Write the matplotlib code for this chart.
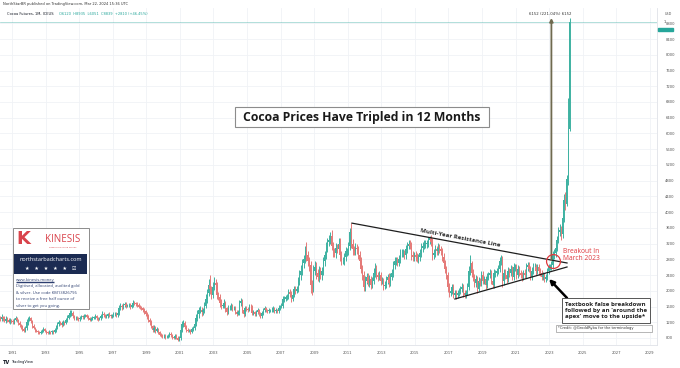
import matplotlib
matplotlib.use("Agg")
import matplotlib.pyplot as plt
import numpy as np
from matplotlib.patches import Rectangle

# ---------------- data (monthly cocoa futures, USD/t) ----------------
start_year, start_month = 1990, 4

c1990 = [1280, 1330, 1300, 1240, 1290, 1260, 1210, 1250, 1230]
c1991 = [1200, 1250, 1300, 1260, 1190, 1130, 1080, 1020, 990, 1050, 1200, 1280]
c1992 = [1300, 1230, 1100, 1050, 1000, 980, 950, 920, 960, 1000, 1020, 980]
c1993 = [950, 930, 960, 940, 970, 950, 1000, 1080, 1150, 1200, 1180, 1140]
c1994 = [1200, 1190, 1250, 1320, 1380, 1430, 1440, 1350, 1300, 1320, 1300, 1280]
c1995 = [1320, 1350, 1330, 1370, 1380, 1340, 1300, 1260, 1290, 1310, 1330, 1350]
c1996 = [1300, 1280, 1300, 1350, 1420, 1380, 1340, 1360, 1400, 1380, 1350, 1380]
c1997 = [1400, 1420, 1380, 1440, 1560, 1620, 1580, 1640, 1660, 1620, 1630, 1650]
c1998 = [1600, 1640, 1700, 1680, 1660, 1640, 1600, 1580, 1550, 1520, 1480, 1420]
c1999 = [1350, 1260, 1200, 1100, 1000, 1050, 980, 1020, 940, 880, 860, 840]
c2000 = [850, 820, 830, 860, 900, 870, 820, 800, 850, 810, 760, 800]
c2001 = [1000, 1150, 1180, 1080, 1000, 980, 990, 960, 1020, 1050, 1150, 1300]
c2002 = [1400, 1500, 1520, 1450, 1500, 1620, 1800, 1950, 2150, 2050, 1900, 2100]
c2003 = [2200, 2150, 1900, 1850, 1700, 1620, 1620, 1700, 1550, 1450, 1560, 1560]
c2004 = [1600, 1550, 1550, 1470, 1420, 1450, 1680, 1750, 1520, 1400, 1550, 1540]
c2005 = [1520, 1600, 1580, 1440, 1450, 1400, 1450, 1500, 1420, 1350, 1430, 1500]
c2006 = [1550, 1500, 1480, 1500, 1500, 1520, 1560, 1480, 1500, 1480, 1570, 1600]
c2007 = [1620, 1780, 1800, 1830, 1850, 1960, 1930, 1800, 1900, 2050, 2000, 2050]
c2008 = [2250, 2400, 2500, 2700, 2800, 3000, 2900, 2750, 2650, 2150, 2050, 2500]
c2009 = [2600, 2450, 2350, 2500, 2400, 2500, 2750, 2900, 3100, 3250, 3300, 3400]
c2010 = [3150, 3000, 2950, 3100, 3050, 3200, 2900, 2750, 2750, 2850, 3000, 3000]
c2011 = [3150, 3500, 3200, 3050, 3000, 3100, 3050, 2900, 2750, 2550, 2400, 2100]
c2012 = [2250, 2350, 2200, 2300, 2150, 2250, 2450, 2550, 2400, 2350, 2400, 2250]
c2013 = [2250, 2120, 2150, 2280, 2350, 2200, 2350, 2450, 2650, 2750, 2750, 2700]
c2014 = [2800, 2950, 2950, 2950, 2900, 3050, 3150, 3200, 3150, 2900, 2850, 2900]
c2015 = [2850, 2800, 2850, 2950, 3100, 3150, 3200, 3200, 3200, 3300, 3350, 3250]
c2016 = [2900, 2950, 3050, 3000, 3100, 3050, 3000, 2850, 2700, 2550, 2400, 2100]
c2017 = [1950, 2000, 2100, 1900, 1950, 1900, 1950, 2000, 2050, 2100, 1950, 1900]
c2018 = [1950, 2100, 2500, 2700, 2450, 2350, 2200, 2300, 2050, 2250, 2200, 2400]
c2019 = [2250, 2300, 2150, 2350, 2400, 2450, 2250, 2150, 2450, 2450, 2500, 2550]
c2020 = [2750, 2800, 2250, 2450, 2400, 2300, 2500, 2450, 2550, 2350, 2600, 2600]
c2021 = [2400, 2550, 2450, 2400, 2350, 2450, 2400, 2600, 2650, 2550, 2350, 2500]
c2022 = [2600, 2600, 2500, 2600, 2500, 2450, 2350, 2400, 2300, 2350, 2500, 2600]
c2023 = [2600, 2650, 2900, 2950, 3100, 3300, 3500, 3550, 3450, 3850, 4300, 4200]
c2024 = [4850, 6120, 8839]

# upper wick above body top / lower wick below body bottom (USD)
h1990 = [60, 80, 40, 50, 70, 40, 50, 60, 40]
l1990 = [40, 50, 60, 40, 50, 60, 40, 50, 50]
h1991 = [50, 70, 60, 40, 30, 40, 30, 40, 50, 60, 80, 50]
l1991 = [40, 50, 30, 60, 50, 40, 50, 40, 40, 30, 40, 60]
h1992 = [70, 40, 30, 50, 40, 40, 30, 40, 50, 40, 50, 30]
l1992 = [60, 40, 40, 30, 50, 40, 40, 30, 30, 40, 40, 40]
h1993 = [30, 40, 40, 30, 40, 30, 50, 60, 50, 60, 40, 40]
l1993 = [40, 30, 40, 30, 30, 40, 30, 40, 40, 50, 40, 50]
h1994 = [50, 40, 60, 60, 50, 70, 60, 40, 40, 50, 40, 40]
l1994 = [30, 50, 40, 40, 40, 50, 60, 50, 40, 40, 50, 40]
h1995 = [50, 40, 40, 50, 40, 30, 40, 30, 50, 40, 40, 50]
l1995 = [40, 40, 50, 40, 40, 40, 50, 40, 30, 40, 30, 40]
h1996 = [40, 30, 40, 50, 60, 40, 40, 50, 40, 50, 40, 40]
l1996 = [50, 40, 30, 40, 40, 50, 40, 30, 40, 40, 50, 30]
h1997 = [50, 40, 50, 60, 70, 60, 50, 60, 60, 50, 40, 50]
l1997 = [40, 40, 50, 40, 50, 50, 60, 40, 50, 60, 40, 50]
h1998 = [50, 60, 60, 50, 40, 50, 40, 50, 40, 50, 40, 40]
l1998 = [60, 40, 50, 40, 50, 40, 50, 40, 50, 50, 60, 60]
h1999 = [40, 50, 60, 50, 40, 70, 50, 60, 40, 40, 40, 30]
l1999 = [60, 50, 60, 50, 60, 50, 50, 40, 50, 40, 40, 40]
h2000 = [50, 40, 40, 50, 50, 40, 40, 40, 50, 40, 30, 60]
l2000 = [40, 40, 30, 30, 40, 50, 40, 30, 30, 40, 40, 30]
h2001 = [80, 90, 70, 60, 50, 50, 40, 50, 60, 50, 80, 100]
l2001 = [40, 60, 70, 60, 50, 40, 40, 50, 40, 40, 40, 50]
h2002 = [100, 80, 90, 80, 70, 90, 120, 100, 150, 250, 80, 120]
l2002 = [60, 80, 70, 80, 60, 60, 60, 100, 80, 120, 100, 80]
h2003 = [150, 100, 80, 70, 60, 80, 60, 80, 50, 50, 80, 70]
l2003 = [80, 100, 120, 80, 100, 80, 70, 60, 80, 70, 50, 60]
h2004 = [80, 60, 70, 60, 50, 60, 80, 60, 50, 50, 60, 60]
l2004 = [60, 70, 50, 60, 50, 40, 60, 70, 80, 60, 50, 60]
h2005 = [60, 70, 60, 50, 50, 40, 60, 50, 40, 40, 50, 60]
l2005 = [50, 40, 50, 60, 50, 50, 40, 50, 60, 50, 40, 40]
h2006 = [60, 50, 40, 50, 40, 60, 50, 40, 50, 40, 60, 50]
l2006 = [40, 50, 50, 40, 50, 40, 50, 50, 40, 50, 40, 50]
h2007 = [60, 80, 70, 60, 70, 80, 90, 60, 70, 80, 70, 80]
l2007 = [50, 60, 70, 50, 60, 70, 80, 90, 60, 70, 80, 60]
h2008 = [100, 120, 150, 120, 110, 150, 240, 100, 120, 100, 120, 150]
l2008 = [80, 100, 120, 100, 120, 100, 150, 120, 150, 200, 150, 80]
h2009 = [150, 120, 100, 120, 100, 100, 120, 120, 130, 100, 120, 100]
l2009 = [100, 150, 100, 120, 100, 120, 100, 120, 100, 120, 100, 120]
h2010 = [150, 100, 100, 120, 100, 140, 150, 100, 120, 100, 120, 100]
l2010 = [120, 130, 100, 120, 100, 100, 150, 100, 80, 100, 100, 120]
h2011 = [100, 100, 220, 120, 100, 110, 100, 100, 100, 100, 100, 100]
l2011 = [100, 120, 100, 150, 100, 100, 120, 100, 120, 100, 120, 100]
h2012 = [120, 100, 100, 100, 80, 100, 120, 150, 100, 80, 100, 80]
l2012 = [100, 80, 80, 100, 100, 80, 80, 100, 100, 100, 80, 100]
h2013 = [100, 80, 90, 100, 80, 100, 90, 100, 120, 100, 100, 100]
l2013 = [80, 100, 80, 80, 100, 100, 80, 80, 90, 100, 100, 80]
h2014 = [100, 120, 100, 100, 80, 120, 100, 90, 80, 100, 100, 80]
l2014 = [80, 100, 100, 80, 100, 80, 100, 80, 100, 120, 100, 80]
h2015 = [100, 100, 80, 100, 120, 100, 100, 80, 100, 80, 40, 60]
l2015 = [100, 80, 100, 80, 100, 120, 80, 100, 100, 80, 100, 100]
h2016 = [100, 100, 120, 100, 120, 100, 80, 100, 100, 80, 80, 80]
l2016 = [120, 100, 80, 100, 100, 100, 100, 100, 100, 100, 100, 120]
h2017 = [100, 80, 80, 80, 80, 60, 80, 80, 80, 100, 80, 80]
l2017 = [100, 80, 80, 80, 80, 100, 80, 80, 80, 80, 100, 80]
h2018 = [80, 100, 120, 200, 60, 100, 80, 100, 80, 100, 80, 100]
l2018 = [80, 60, 80, 100, 100, 100, 100, 100, 100, 60, 80, 80]
h2019 = [100, 80, 80, 100, 80, 100, 80, 80, 100, 80, 80, 100]
l2019 = [80, 80, 100, 80, 80, 80, 80, 80, 80, 100, 80, 80]
h2020 = [100, 100, 80, 100, 100, 80, 100, 80, 100, 80, 100, 80]
l2020 = [80, 100, 150, 100, 100, 100, 80, 100, 80, 80, 80, 100]
h2021 = [80, 100, 80, 80, 80, 80, 100, 100, 80, 80, 80, 100]
l2021 = [100, 80, 80, 80, 100, 80, 80, 80, 100, 80, 80, 80]
h2022 = [100, 100, 80, 80, 80, 80, 80, 80, 60, 80, 80, 80]
l2022 = [80, 80, 100, 80, 100, 80, 80, 80, 80, 80, 80, 80]
h2023 = [80, 100, 100, 100, 100, 100, 120, 150, 100, 150, 150, 200]
l2023 = [80, 80, 100, 80, 80, 100, 80, 100, 150, 100, 100, 150]
h2024 = [100, 780, 96]
l2024 = [50, 150, 69]

years_with_data = list(range(1990, 2025))
close = np.array(sum([globals()[f"c{y}"] for y in years_with_data], []), float)
wick_hi = np.array(sum([globals()[f"h{y}"] for y in years_with_data], []), float)
wick_lo = np.array(sum([globals()[f"l{y}"] for y in years_with_data], []), float)

first_open = 1300
y_ticks = list(range(800, 8801, 400))
x_tick_years = list(range(1991, 2030, 2))

# annotation values
res_line_x = [2011.25, 2024.06]
res_line_y = [3720, 2707]
sup_line_x = [2017.38, 2024.06]
sup_line_y = [1791, 2605]
breakout_xy = (2023.25, 2757)
measure_x, measure_from, measure_to = 2023.13, 2783, 8935
last_price = 8839

# ---------------- figure ----------------
W, H = 680, 368
fig = plt.figure(figsize=(6.8, 3.68), dpi=100)
fig.patch.set_facecolor('white')

def fx(px):
    return px / W

def fy(py):
    return 1 - py / H

AX_L, AX_R, AX_T, AX_B = 0, 657, 8, 345
ax = fig.add_axes([fx(AX_L), fy(AX_B), fx(AX_R) - fx(AX_L), fy(AX_T) - fy(AX_B)])
ax.set_facecolor('white')
ax.set_xlim(1990.285, 2029.42)
ax.set_ylim(622, 9189)

n = len(close)
idx = np.arange(n)
xdates = start_year + (start_month - 1 + idx + 0.5) / 12.0
opens = np.concatenate([[first_open], close[:-1]])
body_top = np.maximum(opens, close)
body_bot = np.minimum(opens, close)
highs = body_top + wick_hi
lows = body_bot - wick_lo
up = close >= opens
UP, DN = '#3fb2a2', '#e57a78'
cols = np.where(up, UP, DN)

for y in y_ticks:
    ax.axhline(y, color='#f0f2f6', lw=0.6, zorder=0)
for yr in x_tick_years:
    ax.axvline(yr, color='#f0f2f6', lw=0.6, zorder=0)

ax.vlines(xdates, lows, highs, colors=cols, lw=0.7, zorder=2)
heights = np.maximum(body_top - body_bot, 8)
ax.bar(xdates, heights, bottom=body_bot, width=0.068, color=cols, linewidth=0, zorder=3)

ax.axhline(last_price, color='#26a69a', lw=0.5, alpha=0.5, zorder=1)

# trend lines
ax.plot(res_line_x, res_line_y, color='#1e1e1e', lw=0.9, zorder=4)
ax.plot(sup_line_x, sup_line_y, color='#1e1e1e', lw=0.9, zorder=4)
ax.plot(*breakout_xy, 'o', ms=10, mfc='none', mec='#e03a3e', mew=0.9, zorder=6)

# measurement arrow
ax.annotate('', xy=(measure_x, measure_to), xytext=(measure_x, measure_from),
            arrowprops=dict(arrowstyle='-|>', color='#6f6a4f', lw=1.3,
                            mutation_scale=5, shrinkA=0, shrinkB=0), zorder=5)
fig.text(fx(550), fy(14), "6152 (221.04%) 6152", fontsize=2.8, color='#333333',
         ha='center', va='center')

# black pointer arrow
ax.annotate('', xy=(2022.99, 2300), xytext=(2024.06, 1817),
            arrowprops=dict(arrowstyle='-|>', color='black', lw=1.8,
                            mutation_scale=7, shrinkA=0, shrinkB=0), zorder=6)

# axes styling
for s in ['left', 'top']:
    ax.spines[s].set_visible(False)
for s in ['right', 'bottom']:
    ax.spines[s].set_color('#dfe2e8')
    ax.spines[s].set_linewidth(0.6)
ax.yaxis.tick_right()
ax.set_yticks(y_ticks)
ax.set_yticklabels([str(v) for v in y_ticks])
ax.set_xticks(x_tick_years)
ax.set_xticklabels([str(v) for v in x_tick_years])
ax.tick_params(axis='both', length=0, labelsize=2.7, colors='#555555')
ax.tick_params(axis='y', pad=6)
ax.tick_params(axis='x', pad=4)

# header
fig.text(fx(3), fy(4), "NorthStarBR published on TradingView.com, Mar 22, 2024 15:36 UTC",
         fontsize=2.6, color='#333333', va='center')
fig.text(fx(7), fy(14), "Cocoa Futures, 1M, ICEUS", fontsize=2.6, color='#131722', va='center')
fig.text(fx(59), fy(14), "O6120  H8935  L6051  C8839  +2810 (+46.45%)", fontsize=2.6,
         color='#26a69a', va='center')
fig.text(fx(668), fy(14), "USD", fontsize=2.4, color='#555555', ha='center', va='center')
fig.text(fx(665), fy(22), "1", fontsize=2.4, color='#333333', ha='center', va='center')
fig.patches.append(Rectangle((fx(658), fy(30.5)), fx(15), 3 / H, transform=fig.transFigure,
                             color='#26a69a', zorder=5))

# bottom logo
fig.text(fx(3), fy(362), "TV", fontsize=3.6, weight='bold', color='#131722', va='center')
fig.text(fx(11), fy(362), "TradingView", fontsize=2.6, color='#131722', va='center')

# title box
fig.patches.append(Rectangle((fx(235), fy(127)), fx(254), 20 / H, transform=fig.transFigure,
                             fc='white', ec='#8c8c8c', lw=0.8, zorder=6))
fig.text(fx(362), fy(117), "Cocoa Prices Have Tripled in 12 Months", fontsize=8.8,
         family='Open Sans', weight='bold', color='#1a1a1a', ha='center', va='center', zorder=7)

# resistance label
fig.text(fx(460), fy(237.5), "Multi-Year Resistance Line", fontsize=4.4, family='Open Sans',
         weight='bold', color='#2a2a2a', ha='center', va='center', rotation=-10.5,
         rotation_mode='anchor')

# breakout label
fig.text(fx(563), fy(255), "Breakout In\nMarch 2023", fontsize=4.8, family='Open Sans',
         color='#e0393e', ha='left', va='center', linespacing=1.1)

# textbook box
fig.patches.append(Rectangle((fx(562), fy(323)), fx(88), 25 / H, transform=fig.transFigure,
                             fc='white', ec='#555555', lw=0.7, zorder=6))
fig.text(fx(565), fy(310.5), "Textbook false breakdown\nfollowed by an 'around the\napex' move to the upside*",
         fontsize=4.4, family='Open Sans', weight='bold', color='#222222', ha='left',
         va='center', linespacing=1.15, zorder=7)
fig.patches.append(Rectangle((fx(556), fy(332)), fx(96), 7 / H, transform=fig.transFigure,
                             fc='white', ec='#9a9a9a', lw=0.5, zorder=6))
fig.text(fx(558), fy(328.5), "*Credit: @GroddRyba for the terminology", fontsize=2.6,
         color='#333333', ha='left', va='center', zorder=7)

# Kinesis box
fig.patches.append(Rectangle((fx(13), fy(309)), fx(76), 81 / H, transform=fig.transFigure,
                             fc='white', ec='#8c8c8c', lw=0.7, zorder=6))
RED = '#d9434b'
fig.text(fx(16), fy(239), "K", fontsize=13, weight='bold', color=RED, ha='left', va='center', zorder=7)
fig.text(fx(63), fy(239), "KINESIS", fontsize=7, family='Open Sans', color=RED,
         ha='center', va='center', zorder=7)
fig.text(fx(63), fy(247), "Redefining sound money", fontsize=1.6, color=RED,
         ha='center', va='center', zorder=7)
fig.patches.append(Rectangle((fx(14), fy(274)), fx(73), 20 / H, transform=fig.transFigure,
                             fc='#1b2b52', ec='none', zorder=7))
fig.text(fx(50.5), fy(259.5), "northstarbadcharts.com", fontsize=4.0, family='Open Sans',
         color='white', ha='center', va='center', zorder=8)
fig.text(fx(50.5), fy(268.5), "\u2605   \u2605   \u2605   \u2605   \u2605   \u2611", fontsize=3.6,
         color='white', ha='center', va='center', zorder=8)
kin_lines = ["www.kinesis.money", "Digitised, allocated, audited gold",
             "& silver. Use code KM13826796", "to receive a free half ounce of",
             "silver to get you going."]
for i, t in enumerate(kin_lines):
    fig.text(fx(16), fy(279.5 + i * 6.6), t, fontsize=3.0, family='Open Sans',
             color='#2b3d6e', ha='left', va='center', zorder=8)
fig.patches.append(Rectangle((fx(16), fy(282)), fx(38), 0.4 / H, transform=fig.transFigure,
                             color='#2b3d6e', zorder=8))

fig.savefig("out.png", dpi=100, facecolor='white')
